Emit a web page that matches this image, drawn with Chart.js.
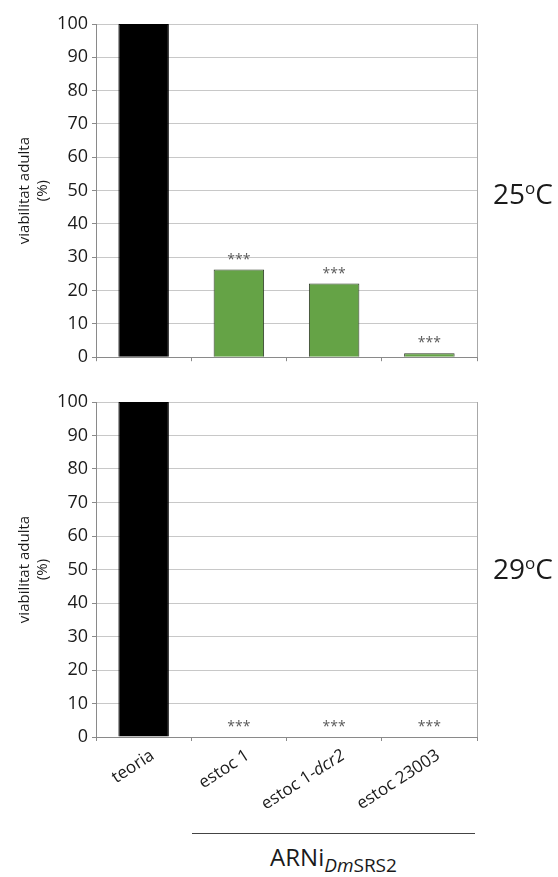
<!DOCTYPE html>
<html>
<head>
<meta charset="utf-8">
<script src="https://cdn.jsdelivr.net/npm/chart.js@4/dist/chart.umd.min.js"></script>
<style>
  html, body { margin: 0; padding: 0; background: #fff; }
  body { width: 558px; height: 877px; position: relative; overflow: hidden; font-family: 'Open Sans', sans-serif; color: #1a1a1a; }
  canvas { position: absolute; left: 0; }
  #c25 { top: 0; }
  #c29 { top: 380px; }
  .temp { position: absolute; left: 493px; font-size: 28px; line-height: 28px; }
  .temp sup { font-size: 17px; vertical-align: 0; position: relative; top: -10px; }
  #t25 { top: 179px; }
  #t29 { top: 554px; }
  #rule { position: absolute; left: 192px; width: 283px; top: 833px; border-top: 1px solid #444; }
  #group { position: absolute; left: 192px; width: 283px; top: 842px; text-align: center; font-size: 24px; line-height: 30px; white-space: nowrap; }
  #group .sub { font-size: 19px; position: relative; top: 6px; }
</style>
</head>
<body>
<canvas id="c25" width="558" height="372"></canvas>
<canvas id="c29" width="558" height="440"></canvas>
<div class="temp" id="t25">25<sup>o</sup>C</div>
<div class="temp" id="t29">29<sup>o</sup>C</div>
<div id="rule"></div>
<div id="group">ARNi<span class="sub"><i>Dm</i>SRS2</span></div>
<script>
// categories and per-category decorations
const categories = ['teoria', 'estoc 1', 'estoc 1-dcr2', 'estoc 23003'];
const italicParts = ['', '', 'dcr2', ''];
const significance = ['', '***', '***', '***'];

// adult viability (%) at each temperature
const viability25 = [100, 26.3, 22.1, 1.2];
const viability29 = [100, 0, 0, 0];

// y-axis ticks
const yMin = 0, yMax = 100, yStep = 10;
const yTitle = ['viabilitat adulta', '(%)'];

const FONT = "'Open Sans', sans-serif";
Chart.defaults.font.family = FONT;
Chart.defaults.color = '#1a1a1a';

const barColors = categories.map((c, i) => i === 0 ? '#000000' : '#65a346');
const barBorders = categories.map((c, i) => i === 0 ? '#000000' : '#2e3a26');

// draws right frame, significance marks and (optionally) rotated category labels
const overlay = {
  id: 'overlay',
  afterDatasetsDraw(chart, args, opts) {
    const ctx = chart.ctx;
    const area = chart.chartArea;
    ctx.save();
    ctx.strokeStyle = '#a8a8a8';
    ctx.lineWidth = 1;
    const rx = Math.round(area.right) + 0.5;
    ctx.beginPath();
    ctx.moveTo(rx, area.top);
    ctx.lineTo(rx, area.bottom);
    ctx.stroke();

    const meta = chart.getDatasetMeta(0);
    ctx.fillStyle = '#5a5a5a';
    ctx.font = '14px ' + FONT;
    ctx.textAlign = 'center';
    ctx.textBaseline = 'middle';
    meta.data.forEach((bar, i) => {
      if (significance[i]) ctx.fillText(significance[i], bar.x, bar.y - 10);
    });

    if (opts.labels) {
      const xs = chart.scales.x;
      const fs = 17;
      categories.forEach((label, i) => {
        const it = italicParts[i];
        const plain = it && label.endsWith(it) ? label.slice(0, label.length - it.length) : label;
        const ital = it && label.endsWith(it) ? it : '';
        ctx.font = 'normal ' + fs + 'px ' + FONT;
        const w1 = ctx.measureText(plain).width;
        ctx.font = 'italic ' + fs + 'px ' + FONT;
        const w2 = ital ? ctx.measureText(ital).width : 0;
        ctx.save();
        ctx.translate(xs.getPixelForValue(i) + 9, xs.top + 17);
        ctx.rotate(-33 * Math.PI / 180);
        ctx.fillStyle = '#1a1a1a';
        ctx.textAlign = 'left';
        ctx.textBaseline = 'middle';
        ctx.font = 'normal ' + fs + 'px ' + FONT;
        ctx.fillText(plain, -(w1 + w2), 0);
        if (ital) {
          ctx.font = 'italic ' + fs + 'px ' + FONT;
          ctx.fillText(ital, -w2, 0);
        }
        ctx.restore();
      });
    }
    ctx.restore();
  }
};

function makeChart(id, values, padTop, xHeight, showLabels) {
  return new Chart(document.getElementById(id), {
    type: 'bar',
    data: {
      labels: categories,
      datasets: [{
        data: values,
        backgroundColor: barColors,
        borderColor: barBorders,
        borderWidth: 1,
        barPercentage: 0.53,
        categoryPercentage: 1
      }]
    },
    options: {
      responsive: false,
      animation: false,
      layout: { padding: { top: padTop, right: 81, left: 0, bottom: 0 } },
      plugins: {
        legend: { display: false },
        tooltip: { enabled: false },
        overlay: { labels: showLabels }
      },
      scales: {
        x: {
          offset: true,
          grid: { display: true, drawOnChartArea: false, offset: true, tickLength: 4, tickColor: '#8a8a8a' },
          border: { color: '#8a8a8a' },
          ticks: { display: false },
          afterFit(scale) { scale.height = xHeight; }
        },
        y: {
          min: yMin,
          max: yMax,
          ticks: { stepSize: yStep, padding: 4, color: '#1a1a1a', font: { size: 18 } },
          grid: { color: '#c8c8c8', tickColor: '#8a8a8a', tickLength: 4 },
          border: { color: '#8a8a8a' },
          title: { display: true, text: yTitle, color: '#1a1a1a', font: { size: 15, lineHeight: 1.2 }, padding: { top: 16, bottom: 0 } },
          afterFit(scale) { scale.width = 96; }
        }
      }
    },
    plugins: [overlay]
  });
}

makeChart('c25', viability25, 24, 14, false);
makeChart('c29', viability29, 22, 83, true);
</script>
</body>
</html>
